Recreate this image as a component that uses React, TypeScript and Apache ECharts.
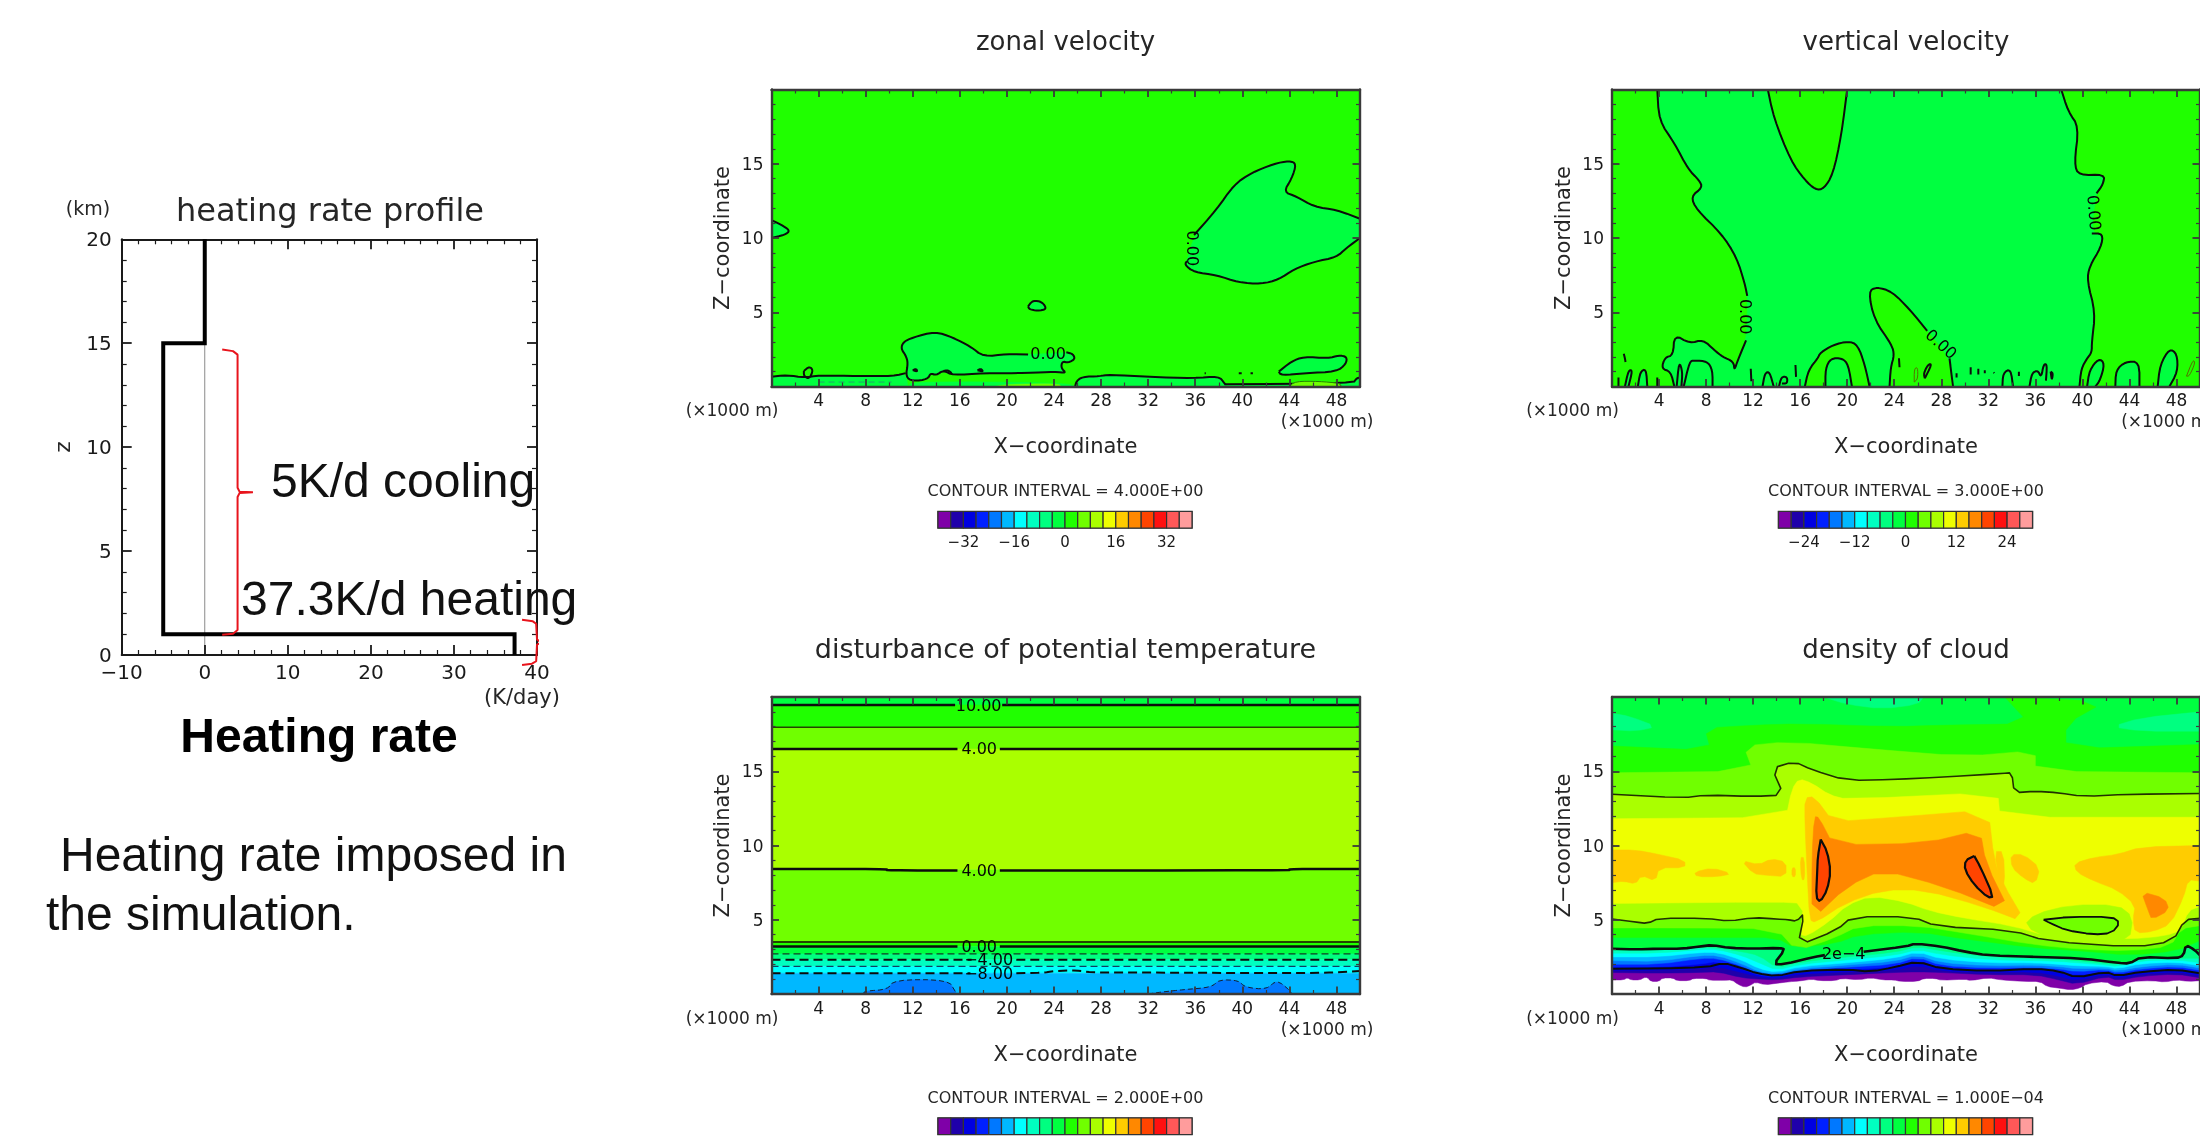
import React, { useEffect, useRef } from "react";
import * as echarts from "echarts";

type P = [number, number];

// ---------- heating rate profile ----------
const profileRate = [0, 0, -5, -5, 37.3, 37.3];
const profileZ = [20, 15, 15, 1, 1, 0];
const zeroLine: P[] = [[0, 15], [0, 0]];
const braceCooling: P[] = [[2.1, 14.7], [3.4, 14.62], [3.95, 14.45], [3.95, 8.05], [4.2, 7.85], [5.8, 7.83], [4.2, 7.8], [3.95, 7.6], [3.95, 1.2], [3.4, 1.02], [2.1, 0.97]];
const braceHeating: P[] = [[38.2, 1.7], [39.5, 1.62], [39.9, 1.5], [40, 0.75], [40.4, 0.63], [41.85, 0.62], [40.4, 0.58], [40, 0.5], [39.9, -0.3], [39.4, -0.42], [38.2, -0.48]];

// ---------- colour scale ----------
const colorCells = ["#7f00a8", "#1f00aa", "#0000e0", "#0020ff", "#0078ff", "#00b8ff", "#00ffff", "#00ffc0", "#00ff80", "#00ff40", "#20ff00", "#70ff00", "#aaff00", "#eeff00", "#ffcc00", "#ff8800", "#ff4400", "#ff1010", "#ff5858", "#ff9c9c"];
const zonalBarTicks = [-32, -16, 0, 16, 32];
const verticalBarTicks = [-24, -12, 0, 12, 24];

// ---------- zonal velocity ----------
const zonalEast: P[] = [[35.9, 10.2], [37.8, 11.9], [39.3, 13.6], [40.8, 14.4], [42.7, 15], [44, 15.2], [44.6, 15], [44.2, 14], [43.5, 13.1], [44.6, 12.8], [46.1, 12.1], [48, 11.9], [50, 11.3], [50, 10], [48.8, 9.3], [48, 8.7], [46.1, 8.4], [44.4, 7.9], [43.1, 7.2], [41.6, 6.9], [39.7, 7], [37.8, 7.5], [35.9, 7.7], [35.1, 8.2], [35.3, 8.45]];
const zonalWest: P[] = [[0, 11.2], [0.8, 10.9], [1.6, 10.5], [1.1, 10.2], [0, 10]];
const zonalSmall: P[] = [[21.8, 5.4], [22.2, 5.8], [23, 5.7], [23.4, 5.2], [22.6, 5.1], [21.9, 5.2], [21.8, 5.4]];
const zonalLowA: P[] = [[21.8, 2.15], [20, 2.2], [18, 2], [16.9, 2.7], [15.4, 3.3], [13.9, 3.7], [12, 3.3], [11.2, 3], [11, 2.55], [11.4, 2.1], [11.6, 1.6], [11.4, 0.65], [12, 0.35], [13.3, 0.5], [13.5, 0.9], [14, 0.75], [14.6, 1.1], [15.4, 0.75], [18, 0.9], [21.8, 0.9], [24.1, 1], [25.05, 0.9], [24.6, 1.25], [24.7, 1.7], [25.2, 1.6], [25.8, 1.85], [25.6, 2.2], [25.05, 2.3]];
const zonalStripWest: P[] = [[0, 0.65], [1.3, 0.77], [2.85, 0.6], [4, 0.75], [7.4, 0.7], [10.4, 0.7], [11.4, 0.9], [11.6, 0], [0, 0]];
const zonalStripMid: P[] = [[25.8, 0], [25.9, 0.35], [26.4, 0.65], [27.9, 0.7], [28.7, 0.8], [32.1, 0.65], [35.9, 0.55], [38, 0.7], [38.5, 0.2], [38.7, 0]];
const zonalStripBase: P[] = [[11.6, 0], [12, 0.35], [25, 0.25], [25.8, 0]];
const zonalStripEast: P[] = [[38.5, 0.15], [49.4, 0.2], [49.7, 0.55], [50, 0.6], [50, 0], [38.5, 0]];
const zonalLowEast: P[] = [[43.1, 1], [44.2, 1.7], [45.2, 2], [47.3, 1.9], [48.2, 2.1], [48.9, 2], [48.8, 1.5], [48, 1], [45.4, 0.9], [43.3, 0.75], [43.1, 1]];
const zonalLoop: P[] = [[2.75, 1.05], [3.2, 1.35], [3.55, 1.1], [3.2, 0.5], [2.75, 0.7], [2.75, 1.05]];
const zonalDots: P[][] = [[[12, 1.1], [12.3, 1.2], [12.4, 1], [12, 1.1]], [[14.6, 1.05], [15, 1.1], [15.3, 0.9]], [[17.5, 1.1], [17.8, 1.2], [18, 1], [17.5, 1.1]], [[39.7, 0.9], [39.95, 0.9]], [[40.7, 0.9], [40.9, 0.9]], [[36.8, 0.9], [36.9, 0.9]]];
const zonalDash: P[] = [[4, 0.3], [10.2, 0.3]];
const zonalPatch: P[] = [[44, 0], [44.5, 0.35], [46.5, 0.35], [48.3, 0.22], [48.4, 0]];
const zonalPatchMid: P[] = [[19, 0], [20, 0.15], [24.4, 0.2], [24.6, 0]];

// ---------- vertical velocity ----------
const vertWestUpper: P[] = [[3.85, 20], [4, 17.9], [5.3, 16.4], [6.5, 14.6], [7.4, 13.9], [7.7, 13.4], [6.7, 12.8], [7.2, 11.9], [9.3, 10.3], [10.6, 8.7], [11.3, 6.9], [11.5, 6.1]];
const vertWestLower: P[] = [[11.4, 3.1], [10.7, 1.78], [10.4, 1.07], [10.35, 1.67], [9.4, 2], [8.7, 2.45], [7.75, 3.16], [6.6, 2.9], [5.3, 3.5], [5.2, 2.1], [4.5, 1.96], [4.2, 1.2], [5, 1], [5.3, 0]];
const vertWestCorners: P[] = [[0, 0], [0, 20]];
const vertWestInner: P[] = [[6.1, 0], [6.6, 1.7], [7, 1.75], [8.1, 1.7], [8.55, 1.1], [8.55, 0]];
const vertNorth: P[] = [[13.25, 20], [13.75, 18.1], [15.2, 15.2], [16.4, 13.9], [17.3, 13.25], [18, 13.3], [18.8, 14.3], [19.5, 16.9], [20, 20]];
const vertEastUpper: P[] = [[38.2, 20], [38.8, 18.5], [39.7, 17.5], [39.3, 15], [39.7, 14.2], [41.9, 14.3], [41.75, 13.6], [41.2, 13]];
const vertEastLower: P[] = [[40.8, 10.3], [41.75, 10.3], [41.6, 9.4], [40.6, 8.1], [40.4, 7.1], [41.1, 5], [40.8, 3], [40.8, 2.3], [40.4, 1.9], [39.9, 1.2], [39.75, 0]];
const vertEastCorners: P[] = [[50, 0], [50, 20]];
const vertLobeOuter: P[] = [[16.4, 0], [16.7, 1.1], [17.5, 1.9], [17.7, 2.27], [18.8, 2.8], [20.1, 3.05], [20.9, 2.8], [21.5, 1.45], [21.9, 0]];
const vertLobeInner: P[] = [[18.15, 0], [18.15, 1.2], [18.6, 1.9], [19.6, 1.9], [20.1, 1.45], [20.4, 0]];
const vertMidUpper: P[] = [[23.6, 0], [23.7, 1.3], [24, 2.1], [23.8, 2.8], [22.3, 4.5], [21.8, 6.4], [22.5, 6.7], [23.8, 6.4], [25.3, 5.2], [26.8, 3.75]];
const vertMidLower: P[] = [[28.7, 1.9], [29, 0]];
const vertHoles: P[][] = [
  [[40.4, 0], [40.6, 1.1], [41.4, 1.9], [41.9, 1.55], [41.5, 0.4], [41.1, 0]],
  [[42.8, 0], [42.85, 1.1], [43.65, 1.67], [44.85, 1.67], [44.85, 0]],
  [[46.4, 0], [46.6, 1.45], [47.4, 2.56], [48.05, 2.2], [48.1, 1], [47.4, 0]],
  [[1.1, 0], [1.4, 1.1], [1.75, 1.1], [1.4, 0]],
  [[2.2, 0], [2.4, 1], [2.9, 1.2], [3, 0]],
];
const vertLoops: P[][] = [
  [[1, 2.2], [1.1, 1.9], [1.15, 1.65]], [[0.55, 0], [0.55, 0.6]], [[3.85, 0], [3.85, 0.6]], [[11.8, 1.2], [11.85, 0.35]],
  [[12.8, 0], [13, 0.9], [13.4, 1], [13.75, 0]], [[14.2, 0], [14.4, 0.65], [14.9, 0.65], [14.9, 0.2], [14.45, 0.2]],
  [[15.6, 1.45], [15.65, 0.65]], [[24.4, 1.9], [24.45, 1.3]],
  [[26.6, 0.55], [27.2, 1.5], [26.9, 1.5], [26.5, 0.9], [26.6, 0.55]],
  [[29.3, 0.9], [29.3, 0.6]], [[30.5, 1.3], [30.5, 0.8]], [[31.15, 1.2], [31.15, 0.8]], [[31.7, 1.1], [31.7, 0.9]], [[32.45, 0.95], [32.5, 0.9]],
  [[33.2, 0], [33.25, 0.9], [33.9, 1.2], [34.1, 0]], [[34.6, 1], [34.6, 0.7]],
  [[35.5, 0], [35.7, 0.9], [36.2, 1.1], [36.5, 0.6], [36.7, 1.5], [37, 1.5], [36.9, 0.4]], [[37.3, 1], [37.5, 0.9], [37.4, 0.4], [37.3, 1]],
  [[5.5, 0], [5.7, 1.7], [6, 1], [5.9, 0]],
];
const vertOliveLoops: P[][] = [
  [[25.7, 0.3], [25.7, 1.2], [26, 1.3], [26, 0.5], [25.7, 0.3]],
  [[48.85, 0.7], [49.4, 1.8], [49.6, 1.6], [49.1, 0.7], [48.85, 0.7]],
];

// ---------- disturbance of potential temperature ----------
const thetaLevels = [20, 19.46, 17.96, 16.5, 8.36, 3.5, 3.2, 2.7, 2.3, 1.86, 1.4, 0];
const thetaColors = ["#00ff40", "#20ff00", "#70ff00", "#aaff00", "#70ff00", "#20ff00", "#00ff40", "#00ff80", "#00ffc0", "#00ffff", "#00b8ff"];
const thetaPatchWest: P[] = [[7.8, 0], [7.9, 0.2], [9.9, 0.3], [10.4, 0.96], [15, 0.96], [15.6, 0.2], [15.7, 0]];
const thetaPatchEast: P[] = [[32, 0], [33, 0.12], [35.1, 0.3], [37.4, 0.45], [38, 0.96], [39.7, 0.92], [40.2, 0.45], [42.1, 0.3], [42.9, 0.96], [44, 0.28], [44.2, 0]];
const theta8Left: P[] = [[0, 1.4], [16.9, 1.4]];
const theta8Right: P[] = [[20.8, 1.4], [23, 1.42], [24, 1.55], [26, 1.6], [27, 1.45], [30, 1.45], [44, 1.4], [48, 1.45], [50, 1.55]];

// ---------- density of cloud ----------
const cloudPurpleEdge: P[] = [[0, 0.95], [1, 0.95], [1.3, 1.1], [1.6, 0.95], [2.4, 0.95], [2.7, 1.1], [3, 1.12], [3.3, 0.85], [4, 0.85], [4.3, 1.08], [5.2, 1.08], [5.5, 0.9], [6.6, 0.9], [6.9, 1.05], [8, 1.05], [8.3, 0.92], [9.5, 0.92], [10.2, 0.95], [10.7, 0.65], [11.3, 0.45], [11.8, 0.6], [12.2, 0.8], [13, 0.62], [14, 0.72], [15, 0.82], [16, 0.88], [17, 1], [17.6, 0.9], [19, 0.9], [19.5, 1.05], [21, 0.95], [22, 1.1], [23, 0.95], [24, 0.95], [24.5, 0.85], [26, 0.85], [26.5, 1.05], [27.5, 1.05], [28, 0.92], [30, 1], [30.5, 0.9], [32, 1.1], [33, 0.95], [35, 0.85], [36.4, 0.85], [37, 0.5], [38, 0.4], [39, 0.28], [39.8, 0.4], [40.4, 0.7], [42, 0.85], [42.6, 0.55], [43.3, 0.5], [44, 0.85], [46, 0.9], [47, 0.8], [48, 0.95], [49, 0.85], [50, 0.9]];
const cloudLowX = [0, 4, 7.5, 9, 11, 12.5, 14, 16, 20, 24, 26, 28, 32, 36, 38, 39.5, 42, 43, 45, 48, 50];
const cloudDarkBlue = [1.45, 1.4, 1.45, 1.5, 1.1, 1, 0.95, 1.15, 1.3, 1.45, 1.5, 1.45, 1.3, 1.3, 0.95, 0.65, 1.2, 0.9, 1.2, 1.35, 1.1];
const cloudBlue = [1.6, 1.6, 1.7, 1.85, 1.45, 1.15, 1.05, 1.35, 1.5, 1.6, 1.95, 1.55, 1.45, 1.5, 1.2, 0.9, 1.35, 1.05, 1.35, 1.5, 1.25];
const cloudBlue2 = [1.8, 1.8, 2, 2.2, 1.7, 1.25, 1.15, 1.5, 1.65, 1.8, 2.3, 1.75, 1.6, 1.65, 1.5, 1.25, 1.5, 1.2, 1.5, 1.65, 1.4];
const cloudAzure = [2, 2, 2.4, 2.4, 1.9, 1.35, 1.25, 1.6, 1.8, 2, 2.5, 1.9, 1.75, 1.8, 1.7, 1.5, 1.65, 1.4, 1.7, 1.85, 1.6];
const cloudSky = [2.25, 2.2, 2.6, 2.6, 2.05, 1.5, 1.35, 1.7, 1.95, 2.2, 2.65, 2.1, 1.9, 1.95, 1.85, 1.7, 1.75, 1.55, 1.85, 2, 1.75];
const cloudCyan = [2.5, 2.5, 2.8, 2.8, 2.3, 1.7, 1.45, 1.85, 2.1, 2.4, 2.85, 2.35, 2.1, 2.1, 2, 1.9, 1.85, 1.7, 2.05, 2.15, 1.9];
const cloudAqua = [2.75, 2.75, 3, 3, 2.6, 2.1, 1.6, 2, 2.3, 2.6, 3, 2.65, 2.3, 2.25, 2.2, 2.1, 1.95, 1.85, 2.25, 2.3, 2.1];
const cloudMint = [2.95, 2.95, 3.15, 3.1, 2.85, 2.6, 1.75, 2.15, 2.5, 2.8, 3.2, 2.9, 2.5, 2.4, 2.35, 2.25, 2.05, 2, 2.4, 2.4, 2.4];
const cloudLine1: P[] = [[0, 1.7], [4, 1.72], [8, 1.8], [9.5, 2.1], [11, 1.75], [12.3, 1.4], [14, 1.2], [16, 1.55], [20, 1.65], [22, 1.5], [24, 1.8], [26, 2.2], [28, 1.7], [32, 1.55], [36, 1.7], [38, 1.55], [39.5, 1.1], [42, 1.5], [43, 1.2], [45, 1.5], [48, 1.65], [50, 1.4]];
const cloud2e4Left: P[] = [[0, 3.05], [2, 3], [4, 3.05], [6, 3.05], [7.5, 3.2], [8.5, 3.3], [10, 3.1], [12, 3.05], [14.25, 3.1], [14.7, 3], [13.75, 2], [14.6, 2], [17.2, 2.5], [18.1, 2.62]];
const cloud2e4Right: P[] = [[21.4, 2.85], [25, 3.2], [25.8, 3.4], [28, 3.2], [30, 2.85], [32, 2.6], [36, 2.5], [40, 2.4], [43, 2.1], [44, 2.05], [45, 2.5], [48, 2.4], [48.6, 2.6], [48.8, 3.3], [49.5, 3], [50, 2.6]];
const cloudTopRight: P[] = [[50, 20], [0, 20]];
const cloudPatchLeft: P[] = [[0, 18.9], [1.5, 18.7], [3.8, 18], [2, 17.7], [0, 17.8]];
const cloudPatchTop: P[] = [[18, 20], [20, 19.5], [23, 19.2], [26, 19.5], [26.5, 20]];
const cloudPatchRight: P[] = [[42.5, 18], [45, 18.6], [50, 19], [50, 17.7], [45, 17.7]];
const cloudGreenBand: P[] = [[0, 3.8], [4, 3.8], [10, 3.8], [14, 3.8], [15.5, 3.1], [19, 3.4], [21, 4], [26, 4.2], [30, 3.7], [36, 3.1], [40, 2.9], [44, 2.6], [48, 2.9], [50, 3.6], [50, 16.8], [38.6, 16.5], [38.6, 18.2], [42, 19.7], [33.4, 20], [35.5, 18.2], [28, 18.1], [24, 18], [16, 18.2], [12, 18.1], [7.9, 17.9], [8.4, 16.4], [0, 16.7]];
const cloudLimeBand: P[] = [[0, 4.45], [6, 4.45], [14, 4.4], [15.7, 2.9], [19, 3.8], [21, 4.6], [26, 4.6], [30, 4.1], [36, 3.3], [40, 3], [44, 2.9], [47.5, 3.2], [48.4, 4.4], [50, 4.6], [50, 14.9], [36, 15], [36, 16.4], [30, 16], [22, 16.5], [15, 17], [11.2, 16.7], [12, 15], [0, 14.9]];
const cloudContourLow: P[] = [[0, 5.05], [2, 4.85], [3, 4.75], [4, 5.1], [8, 5.1], [10, 4.9], [12, 5.15], [14, 5.05], [15, 5], [15.7, 4.9], [16.36, 5.45], [15.8, 3.25], [19.1, 4.3], [20.4, 5.2], [25.6, 5.2], [27.6, 4.55], [34, 4.3], [37, 3.55], [44.5, 3.15], [47.7, 3.55], [48.7, 5], [50, 5.1]];
const cloudContourHigh: P[] = [[0, 13.45], [6, 13.2], [8, 13.4], [12, 13.3], [14.6, 13.4], [13.6, 15.2], [15.5, 15.65], [17, 15.1], [20, 14.37], [24, 14.45], [28, 14.6], [33.2, 14.85], [34, 14.9], [34.2, 13.55], [36, 13.65], [38, 13.55], [40, 13.3], [44, 13.45], [50, 13.5]];
const cloudYellow: P[] = [[0, 11.8], [14.8, 11.9], [15.3, 13.8], [15.9, 14.5], [17, 14.2], [18.5, 13.4], [20, 13.1], [32.8, 13.6], [33, 11.9], [50, 11.9], [50, 5.9], [49, 5.6], [48.4, 4.3], [47, 3.9], [44, 3.7], [41, 3.8], [37, 3.9], [34, 4.6], [30, 5.1], [27, 5.6], [25, 6.2], [22, 6.6], [20, 6], [18.5, 4.9], [16.6, 3.9], [16, 4], [16.3, 6.1], [14, 6.2], [0, 6.1]];
const cloudHalo: P[] = [[35, 4.6], [36, 5.4], [39, 6], [43, 6], [44.3, 5.2], [44, 3.6], [41, 3.3], [37.5, 3.6]];
const cloudOrangeYellow: P[] = [[16.4, 13.2], [17.2, 13.3], [18.8, 11.6], [24, 11.9], [32, 12.4], [32.5, 9], [33.2, 7.5], [35.2, 4.8], [31.5, 5.9], [26.6, 7], [23, 7], [19.8, 6.1], [17.3, 4.8], [16.8, 5], [16.6, 8], [16.4, 11.5]];
const cloudOrange: P[] = [[17.2, 11.95], [17.6, 11.9], [18.8, 10.05], [26.6, 10.15], [31.3, 11.05], [31.8, 8.8], [33.9, 5.45], [28.2, 7.25], [23, 8.35], [20, 7.25], [17, 5], [17, 9.25]];
const cloudCoreWest: P[] = [[17.75, 10.4], [18.3, 9.6], [18.6, 8.25], [18.3, 7], [17.7, 6.2], [17.35, 6.5], [17.45, 8.25], [17.5, 9.25], [17.75, 10.4]];
const cloudCoreEast: P[] = [[30.8, 9.3], [31.3, 8.6], [32.45, 6.55], [31.95, 6.5], [30.8, 7.35], [30, 8.35], [30.05, 9], [30.8, 9.3]];
const cloudEllipse: P[] = [[36.7, 5], [38.9, 5.2], [42.5, 5.2], [43.2, 4.8], [42.5, 4.1], [40.9, 4], [38.6, 4.3], [37.2, 4.8], [36.7, 5]];
const cloudPatches: P[][] = [
  [[0, 9.7], [2, 9.7], [4, 9.4], [6.2, 9], [6.2, 8.5], [4, 8.5], [3.7, 7.6], [2.5, 8], [2, 7.4], [1, 7.6], [0, 7.5]],
  [[7, 8.2], [8.5, 8.5], [10.2, 8.1], [9, 7.9], [7.2, 7.9]],
  [[11, 9], [12.5, 8.7], [13.5, 9.1], [14.8, 8.9], [14.8, 7.9], [13, 8], [12, 8.1]],
  [[15.3, 8.5], [15.6, 8.5], [15.6, 7.9], [15.3, 7.9]],
  [[16, 9.2], [16.35, 9.2], [16.4, 7.7], [16.1, 7.7]],
  [[32.5, 9.6], [33.3, 9.6], [33.4, 7.3], [33, 7.4]],
  [[33.9, 9.4], [35, 9.4], [36.4, 8.5], [36, 7.4], [35, 7.8], [34, 8.5]],
  [[39.3, 8.8], [41, 9.2], [43, 9.4], [45, 9.9], [50, 10], [50, 7.6], [49, 7.7], [48.6, 6.5], [47.5, 4.7], [46, 4.2], [44.5, 4.1], [44.3, 5], [44.5, 6], [43, 7], [41, 7.6], [39.5, 8.2]],
];
const cloudOrangeRight: P[] = [[45, 6.9], [47, 6.45], [47.4, 5.65], [45.9, 5], [45.6, 5.6]];

// ---------- contour labels: x, z, text, rotation (degrees) ----------
type L = [number, number, string, number];
const zonalLabels: L[] = [[35.75, 9.3, "0.00", -90], [23.5, 2.2, "0.00", 0]];
const vertLabels: L[] = [[11.35, 4.7, "0.00", -90], [28, 2.85, "0.00", -42], [41, 11.7, "0.00", -85]];
const thetaLabels: L[] = [[17.6, 19.46, "10.00", 0], [17.65, 16.5, "4.00", 0], [17.65, 8.32, "4.00", 0], [17.65, 3.2, "0.00", 0], [18.45, 2.3, "−4.00", 0], [18.45, 1.4, "−8.00", 0]];
const cloudLabels: L[] = [[19.7, 2.75, "2e−4", 0]];

// ---------- drawing helpers (styles only) ----------
type Item = { pts: P[]; fill?: string; stroke?: string; lw?: number; dash?: number[] };
const DARK = "#0c0c0c";
const area = (pts: P[], fill: string): Item => ({ pts, fill });
const line = (pts: P[], lw = 2, stroke = DARK, dash?: number[]): Item => ({ pts, stroke, lw, dash });
const zip = (xs: number[], zs: number[]): P[] => xs.map((x, i) => [x, zs[i]] as P);
const C = Object.fromEntries(["purple", "navy", "blue", "blue2", "azure", "sky", "cyan", "aqua", "mint", "spring", "green", "lime", "chart", "yellow", "gold", "orange", "red"].map((k, i) => [k, colorCells[i]]));

const zonalItems: Item[] = [
  area([[0, 0], [50, 0], [50, 20], [0, 20]], C.green),
  area(zonalEast, C.spring), line(zonalEast),
  area(zonalWest, C.spring), line(zonalWest),
  area(zonalSmall, C.spring), line(zonalSmall),
  area(zonalStripWest, C.spring), line(zonalStripWest.slice(0, 7)),
  area(zonalStripBase, C.spring),
  area(zonalLowA, C.spring), line(zonalLowA),
  area(zonalStripMid, C.spring), line(zonalStripMid),
  area(zonalStripEast, C.spring), line(zonalStripEast.slice(0, 4)),
  area(zonalLowEast, C.spring), line(zonalLowEast),
  line(zonalLoop), ...zonalDots.map((d) => line(d)),
  line(zonalDash, 1, "#20a070", [6, 4]),
  area(zonalPatch, C.lime), line(zonalPatch, 1, "#208000"),
  area(zonalPatchMid, C.lime),
];

const vertItems: Item[] = [
  area([[0, 0], [50, 0], [50, 20], [0, 20]], C.spring),
  area([...vertWestUpper, ...vertWestLower, ...vertWestCorners], C.green),
  line(vertWestUpper), line(vertWestLower),
  area(vertWestInner, C.spring), line(vertWestInner),
  area(vertNorth, C.green), line(vertNorth),
  area([...vertEastUpper, ...vertEastLower, ...vertEastCorners], C.green),
  line(vertEastUpper), line(vertEastLower),
  ...vertHoles.flatMap((h) => [area(h, C.spring), line(h)]),
  area(vertLobeOuter, C.green), line(vertLobeOuter),
  area(vertLobeInner, C.spring), line(vertLobeInner),
  area([...vertMidUpper, ...vertMidLower], C.green), line(vertMidUpper), line(vertMidLower),
  ...vertLoops.map((d) => line(d)),
  ...vertOliveLoops.map((d) => line(d, 1, "#557000")),
];

const thetaBands: Item[] = thetaColors.map((c, i) =>
  area([[0, thetaLevels[i]], [50, thetaLevels[i]], [50, thetaLevels[i + 1]], [0, thetaLevels[i + 1]]], c),
);
const hline = (z: number, stops: number[]): P[] => stops.map((x) => [x, z] as P);
const thetaItems: Item[] = [
  ...thetaBands,
  area(thetaPatchWest, C.azure), line(thetaPatchWest, 1, "#123", [5, 3]),
  area(thetaPatchEast, C.azure), line(thetaPatchEast, 1, "#123", [5, 3]),
  line(hline(thetaLevels[1], [0, 15.6]), 2.5), line(hline(thetaLevels[1], [19.6, 50]), 2.5),
  line(hline(thetaLevels[2], [0, 50]), 1.6, "#224400"),
  line(hline(thetaLevels[3], [0, 15.8]), 2.5), line(hline(thetaLevels[3], [19.4, 50]), 2.5),
  line([[0, 8.42], [9.8, 8.42], [9.8, 8.32], [15.8, 8.32]], 2.5), line([[19.4, 8.32], [44, 8.32], [44, 8.42], [50, 8.42]], 2.5),
  line(hline(thetaLevels[5], [0, 50]), 2, "#224400"),
  line(hline(thetaLevels[6], [0, 15.8]), 2.5), line(hline(thetaLevels[6], [19.4, 50]), 2.5),
  line(hline(thetaLevels[7], [0, 50]), 1.2, "#104020", [7, 4]),
  line(hline(thetaLevels[8], [0, 17]), 2, DARK, [9, 5]), line(hline(thetaLevels[8], [20.8, 50]), 2, DARK, [9, 5]),
  line(hline(thetaLevels[9], [0, 50]), 1.2, "#104060", [7, 4]),
  line(theta8Left, 2, DARK, [9, 5]), line(theta8Right, 2, DARK, [9, 5]),
];

const band = (zs: number[], c: string): Item => area([...zip(cloudLowX, zs), ...cloudTopRight], c);
const cloudItems: Item[] = [
  area([...cloudPurpleEdge, ...cloudTopRight], C.purple),
  band(cloudDarkBlue, C.navy), band(cloudBlue, C.blue), band(cloudBlue2, C.blue2),
  band(cloudAzure, C.azure), band(cloudSky, C.sky), band(cloudCyan, C.cyan), band(cloudAqua, C.aqua), band(cloudMint, C.mint),
  area([...cloud2e4Left, ...cloud2e4Right, ...cloudTopRight], C.spring),
  area(cloudPatchLeft, C.mint), area(cloudPatchTop, C.mint), area(cloudPatchRight, C.mint),
  area(cloudGreenBand, C.green),
  area(cloudLimeBand, C.lime),
  area([...cloudContourLow, ...[...cloudContourHigh].reverse()], C.chart),
  area(cloudYellow, C.yellow),
  area(cloudHalo, C.chart),
  ...cloudPatches.map((p) => area(p, C.gold)),
  area(cloudOrangeYellow, C.gold),
  area(cloudOrange, C.orange),
  area(cloudOrangeRight, C.orange),
  area(cloudCoreWest, C.red), area(cloudCoreEast, C.red),
  area(cloudEllipse, C.lime),
  line(cloudLine1, 2), line(cloud2e4Left, 2.6), line(cloud2e4Right, 2.6),
  line(cloudContourLow, 1.6, "#203000"), line(cloudContourHigh, 1.6, "#203000"),
  line(cloudEllipse, 1.8), line(cloudCoreWest, 2.2), line(cloudCoreEast, 2.2),
];

const SANS = "DejaVu Sans";
const ARIAL = "Liberation Sans";
const minus = (v: number) => String(v).replace("-", "−");

// Rounds the corners of a drawn outline; vertices on the plot frame stay where they are.
const onFrame = (p: P) => p[0] <= 0 || p[0] >= 50 || p[1] <= 0 || p[1] >= 20;
function rounded(pts: P[], closed: boolean, rounds: number): P[] {
  let cur = pts;
  let fixed = pts.map(onFrame);
  for (let r = 0; r < rounds; r++) {
    const out: P[] = [];
    const outFixed: boolean[] = [];
    const n = cur.length;
    const segs = closed ? n : n - 1;
    for (let i = 0; i < segs; i++) {
      const j = (i + 1) % n;
      const A = cur[i];
      const B = cur[j];
      const aFix = fixed[i] || (!closed && i === 0);
      const bFix = fixed[j] || (!closed && i === segs - 1);
      if (aFix) { out.push(A); outFixed.push(true); }
      else { out.push([A[0] * 0.75 + B[0] * 0.25, A[1] * 0.75 + B[1] * 0.25]); outFixed.push(false); }
      if (!bFix) { out.push([A[0] * 0.25 + B[0] * 0.75, A[1] * 0.25 + B[1] * 0.75]); outFixed.push(false); }
      else if (!closed && i === segs - 1) { out.push(B); outFixed.push(true); }
    }
    cur = out;
    fixed = outFixed;
  }
  return cur;
}

function shapesSeries(idx: number, items: Item[], labels: L[], rounds: number) {
  const all: any[] = [...items, ...labels];
  return {
    type: "custom",
    xAxisIndex: idx * 2,
    yAxisIndex: idx * 2,
    clip: true,
    silent: true,
    data: all.map((_, i) => [i]),
    encode: { x: -1, y: -1 },
    renderItem: (params: any, api: any) => {
      const it = all[params.dataIndex];
      if (Array.isArray(it)) {
        const [x, z, text, rot] = it as L;
        const [px, py] = api.coord([x, z]);
        return {
          type: "text", x: px, y: py, rotation: (rot * Math.PI) / 180,
          style: { text, fontSize: 16, fontFamily: SANS, fill: "#050505", align: "center", verticalAlign: "middle" },
        };
      }
      const item = it as Item;
      const points = rounded(item.pts, !!item.fill, rounds).map((p) => api.coord(p));
      if (item.fill) return { type: "polygon", shape: { points }, style: { fill: item.fill, stroke: item.fill, lineWidth: 0.5 } };
      return { type: "polyline", shape: { points }, style: { fill: "none", stroke: item.stroke, lineWidth: item.lw, lineDash: item.dash, lineJoin: "round" } };
    },
  };
}

function barSeries(xIdx: number, lo: number, step: number) {
  return {
    type: "custom", xAxisIndex: xIdx, yAxisIndex: xIdx, silent: true,
    data: colorCells.map((_, i) => [i]),
    encode: { x: -1, y: -1 },
    renderItem: (params: any, api: any) => {
      const i = params.dataIndex;
      const a = api.coord([lo + i * step, 0]);
      const b = api.coord([lo + (i + 1) * step, 1]);
      return { type: "rect", shape: { x: a[0], y: b[1], width: b[0] - a[0], height: a[1] - b[1] }, style: { fill: colorCells[i], stroke: "#333", lineWidth: 1.2 } };
    },
  };
}

export default function App() {
  const ref = useRef<HTMLDivElement>(null);
  useEffect(() => {
    document.body.style.margin = "0";
    const chart = echarts.init(ref.current!, undefined, { renderer: "svg" });

    const grids: any[] = [];
    const xAxes: any[] = [];
    const yAxes: any[] = [];
    const axisBase = (color: string, lw: number, major: number, minor: number, split: number) => ({
      z: 10, splitLine: { show: false },
      axisLine: { show: true, onZero: false, lineStyle: { color, width: lw } },
      axisTick: { show: true, inside: true, length: major, lineStyle: { color, width: 1.8 } },
      minorTick: { show: true, length: minor, splitNumber: split, lineStyle: { color, width: 1.2 } },
    });
    const label = (size: number, margin: number) => ({ fontFamily: SANS, fontSize: size, color: "#1a1a1a", margin, hideOverlap: false });

    // profile grid and the four contour grids share one axis layout
    const addFrame = (left: number, top: number, w: number, h: number, xr: number[], xi: number, xsplit: number, ysplit: number, c: string, lw: number, maj: number, min: number, labelSize: number, xm: number, ym: number, hideX: boolean) => {
      const g = grids.length;
      grids.push({ left, top, width: w, height: h, show: false });
      const b = axisBase(c, lw, maj, min, xsplit);
      const by = axisBase(c, lw, maj, min, ysplit);
      const fmtX = (v: number) => (hideX && (v % 4 !== 0 || v === 0) ? "" : minus(v));
      xAxes.push({ ...b, type: "value", gridIndex: g, position: "bottom", min: xr[0], max: xr[1], interval: xi, axisLabel: { ...label(labelSize, xm), formatter: fmtX, showMinLabel: !hideX, showMaxLabel: !hideX } });
      xAxes.push({ ...b, type: "value", gridIndex: g, position: "top", min: xr[0], max: xr[1], interval: xi, axisLabel: { show: false } });
      const fmtY = (v: number) => (hideX && (v === 0 || v === 20) ? "" : String(v));
      yAxes.push({ ...by, type: "value", gridIndex: g, position: "left", min: 0, max: 20, interval: 5, axisLabel: { ...label(labelSize, ym), formatter: fmtY, showMinLabel: !hideX, showMaxLabel: !hideX } });
      yAxes.push({ ...by, type: "value", gridIndex: g, position: "right", min: 0, max: 20, interval: 5, axisLabel: { show: false } });
    };

    addFrame(121.7, 239.3, 415.3, 415.7, [-10, 40], 10, 5, 5, "#1a1a1a", 2, 10, 5, 20, 7, 10, false);
    const panels = [[771.5, 89.5], [1612, 89.5], [771.5, 697], [1612, 697]];
    panels.forEach(([l, t]) => addFrame(l, t, 588.5, 297, [0, 50], 4, 2, 5, "#3a3a3a", 2.4, 7.5, 4, 17, 5, 8, true));

    const series: any[] = [
      { type: "line", xAxisIndex: 0, yAxisIndex: 0, data: zeroLine, symbol: "none", lineStyle: { color: "#8a8a8a", width: 1 }, silent: true },
      { type: "line", xAxisIndex: 0, yAxisIndex: 0, data: profileRate.map((r, i) => [r, profileZ[i]]), symbol: "none", lineStyle: { color: "#000", width: 4, join: "miter" }, silent: true, z: 12, clip: false },
      { type: "line", xAxisIndex: 0, yAxisIndex: 0, data: braceCooling, symbol: "none", lineStyle: { color: "#e8141c", width: 2 }, silent: true, clip: false, z: 12 },
      { type: "line", xAxisIndex: 0, yAxisIndex: 0, data: braceHeating, symbol: "none", lineStyle: { color: "#e8141c", width: 2 }, silent: true, clip: false, z: 12 },
      shapesSeries(1, zonalItems, zonalLabels, 2),
      shapesSeries(2, vertItems, vertLabels, 2),
      shapesSeries(3, thetaItems, thetaLabels, 2),
      shapesSeries(4, cloudItems, cloudLabels, 1),
    ];

    // colour bars
    const bars: [number, number, number, number, number[] | null][] = [
      [938, 511.5, -40, 40, zonalBarTicks],
      [1778.5, 511.5, -30, 30, verticalBarTicks],
      [938, 1118, -40, 40, null],
      [1778.5, 1118, -10, 10, null],
    ];
    bars.forEach(([l, t, lo, hi, ticks]) => {
      const g = grids.length;
      grids.push({ left: l, top: t, width: 254, height: 16.5, show: true, borderColor: "#333", borderWidth: 1.5, backgroundColor: "transparent" });
      const xi = xAxes.length;
      xAxes.push({
        type: "value", gridIndex: g, min: lo, max: hi, axisLine: { show: false }, axisTick: { show: false }, splitLine: { show: false },
        axisLabel: ticks ? { ...label(15, 6), customValues: ticks, formatter: (v: number) => minus(v) } : { show: false },
      });
      yAxes.push({ type: "value", gridIndex: g, min: 0, max: 1, show: false });
      series.push(barSeries(xi, lo, (hi - lo) / 20));
    });

    // texts
    const text = (t: string, x: number, y: number, size: number, o: any = {}) => ({
      type: "text", x, y, rotation: o.rotation ?? 0, z: 100, silent: true,
      style: { text: t, fontSize: size, fontFamily: o.font ?? SANS, fontWeight: o.weight ?? "normal", fill: o.fill ?? "#262626", align: o.align ?? "center", verticalAlign: "middle" },
    });
    const graphicEls: any[] = [
      text("heating rate profile", 330, 210, 32),
      text("(km)", 88, 208, 19),
      text("z", 62, 447, 22, { rotation: Math.PI / 2 }),
      text("(K/day)", 522, 697, 21),
      text("5K/d cooling", 271, 480, 48, { font: ARIAL, align: "left", fill: "#111" }),
      text("37.3K/d heating", 241, 598, 48, { font: ARIAL, align: "left", fill: "#111" }),
      text("Heating rate", 319, 735, 48, { font: ARIAL, weight: "bold", fill: "#000" }),
      text("Heating rate imposed in", 60, 854, 48, { font: ARIAL, align: "left", fill: "#111" }),
      text("the simulation.", 46, 913, 48, { font: ARIAL, align: "left", fill: "#111" }),
    ];
    const panelTexts: [number, number, string, number, string][] = [
      [0, 0, "zonal velocity", 26, "CONTOUR INTERVAL = 4.000E+00"],
      [840.5, 0, "vertical velocity", 26, "CONTOUR INTERVAL = 3.000E+00"],
      [0, 607.5, "disturbance of potential temperature", 27, "CONTOUR INTERVAL = 2.000E+00"],
      [840.5, 607.5, "density of cloud", 26, "CONTOUR INTERVAL = 1.000E−04"],
    ];
    panelTexts.forEach(([dx, dy, title, size, interval]) => {
      graphicEls.push(
        text(title, 1065.5 + dx, 41 + dy, size),
        text("Z−coordinate", 722 + dx, 238 + dy, 21, { rotation: Math.PI / 2 }),
        text("(×1000 m)", 732 + dx, 410 + dy, 17),
        text("(×1000 m)", 1327 + dx, 421 + dy, 17),
        text("X−coordinate", 1065.5 + dx, 446 + dy, 21),
        text(interval, 1065.5 + dx, 490 + dy, 16),
      );
    });

    chart.setOption({
      animation: false,
      backgroundColor: "#ffffff",
      grid: grids,
      xAxis: xAxes,
      yAxis: yAxes,
      series,
      graphic: { elements: graphicEls },
    });
    return () => chart.dispose();
  }, []);
  return <div ref={ref} style={{ position: "absolute", left: 0, top: 0, width: 2200, height: 1142, filter: "blur(0.5px)" }} />;
}
